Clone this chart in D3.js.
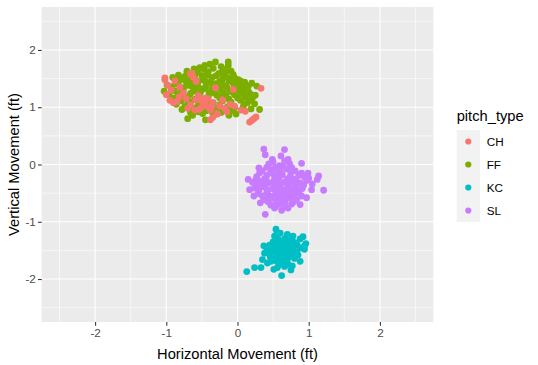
<!DOCTYPE html>
<html><head><meta charset="utf-8">
<script src="https://cdn.jsdelivr.net/npm/d3@7"></script>
<style>body{margin:0;background:#fff}svg{display:block;font-family:"Liberation Sans",Arial,sans-serif}</style>
</head><body><svg id="c" width="538" height="365"></svg>
<script>
const categories = ["CH","FF","KC","SL"];
const colors = ["#F8766D","#7CAE00","#00BFC4","#C77CFF"];
const drawOrder = ["FF","CH","KC","SL"];
const xTicks = [-2,-1,0,1,2];
const yTicks = [-2,-1,0,1,2];

const chPoints = [[-1.02,1.48],[-0.98,1.38],[-1.0,1.22],[-0.95,1.12],[-0.90,1.08],[-0.85,1.10],[-0.93,1.30],[-0.88,1.46],[-0.81,1.35],[-0.76,1.25],[-0.66,1.58],[-0.62,1.52],[-0.58,1.45],[-0.72,1.15],[-0.66,1.04],[-0.60,0.95],[-0.52,1.12],[-0.50,1.00],[-0.45,1.05],[-0.42,1.15],[-0.38,0.95],[-0.35,1.08],[-0.31,1.34],[-0.38,0.78],[-0.35,0.82],[-0.25,1.02],[-0.18,0.98],[-0.15,0.92],[-0.10,1.05],[-0.06,1.31],[0.05,0.95],[0.11,0.93],[0.17,0.74],[0.20,0.77],[0.23,0.80],[0.26,0.83],[0.33,1.33],[-0.70,0.98],[-0.55,1.20],[-0.21,1.13],[-0.28,0.88],[-0.82,1.18],[-0.59,1.13],[-0.54,0.96],[-0.40,0.99],[-0.04,1.02],[-1.02,1.51],[-0.64,1.59],[-0.46,1.16],[-0.36,1.01],[-0.29,0.89]];

const ffPoints = [[-1.03,1.28],[-0.99,1.39],[-0.91,1.52],[-0.83,1.56],[-0.71,1.63],[-0.61,1.67],[-0.53,1.69],[-0.46,1.73],[-0.39,1.75],[-0.31,1.79],[-0.23,1.71],[-0.13,1.73],[-0.09,1.63],[-0.04,1.51],[0.04,1.46],[0.11,1.39],[0.14,1.31],[0.18,1.23],[0.21,1.16],[0.24,1.06],[0.19,0.97],[0.27,1.37],[0.31,0.96],[0.08,1.01],[-0.02,0.88],[-0.12,0.86],[-0.23,0.91],[-0.33,0.86],[-0.45,0.78],[-0.55,0.92],[-0.63,0.86],[-0.70,0.80],[-0.78,0.96],[-0.86,1.05],[-0.91,1.16],[-0.96,1.22],
[-0.69,1.58],[-0.56,1.61],[-0.41,1.62],[-0.26,1.59],[-0.16,1.62],
[-0.79,1.49],[-0.66,1.51],[-0.49,1.48],[-0.36,1.52],[-0.21,1.49],[-0.11,1.51],[0.01,1.48],
[-0.86,1.41],[-0.71,1.38],[-0.56,1.42],[-0.44,1.39],[-0.31,1.41],[-0.19,1.38],[-0.06,1.42],[0.06,1.37],
[-0.89,1.29],[-0.76,1.31],[-0.61,1.28],[-0.49,1.32],[-0.36,1.29],[-0.24,1.31],[-0.11,1.28],[0.01,1.31],[0.09,1.27],
[-0.84,1.21],[-0.69,1.19],[-0.54,1.22],[-0.41,1.18],[-0.29,1.21],[-0.16,1.19],[-0.04,1.22],[0.11,1.18],
[-0.79,1.11],[-0.66,1.09],[-0.49,1.12],[-0.34,1.08],[-0.21,1.11],[-0.09,1.09],[0.04,1.12],[0.14,1.08],
[-0.74,1.01],[-0.59,0.99],[-0.44,1.02],[-0.29,0.98],[-0.14,1.01],[-0.04,0.99],
[-0.66,0.91],[-0.49,0.89],[-0.36,0.92],
[-0.45,1.45],[-0.35,1.35],[-0.25,1.45],[-0.55,1.35],[-0.40,1.25],[-0.30,1.55],[-0.50,1.55],[-0.15,1.35],[-0.65,1.45],[-0.20,1.25],[-0.13,1.79],[0.20,1.42],[0.25,1.21],
[-0.60,1.64],[-0.47,1.66],[-0.34,1.68],[-0.20,1.66],
[-0.74,1.54],[-0.60,1.56],[-0.43,1.56],[-0.18,1.55],[-0.06,1.57],
[-0.82,1.46],[-0.72,1.44],[-0.58,1.47],[-0.38,1.44],[-0.12,1.46],[0.00,1.43],[0.10,1.44],
[-0.93,1.36],[-0.78,1.34],[-0.64,1.36],[-0.45,1.33],[-0.26,1.36],[-0.05,1.34],[0.05,1.36],[0.15,1.36],
[-0.80,1.26],[-0.66,1.24],[-0.52,1.26],[-0.33,1.25],[-0.07,1.26],[0.05,1.24],[0.16,1.26],
[-0.75,1.16],[-0.60,1.14],[-0.45,1.15],[-0.25,1.16],[-0.12,1.14],[0.00,1.16],[0.18,1.12],
[-0.70,1.06],[-0.55,1.04],[-0.39,1.06],[-0.25,1.04],[-0.10,1.05],[0.10,1.06],
[-0.62,0.96],[-0.44,0.94],[-0.20,0.95],[-0.08,0.94]];

const kcPoints = [[0.54,-1.13],[0.55,-1.22],[0.92,-1.26],[0.94,-1.42],[0.94,-1.48],[0.88,-1.69],[0.75,-1.84],[0.62,-1.94],[0.51,-1.83],[0.13,-1.87],[0.24,-1.80],[0.33,-1.80],[0.37,-1.42],[0.35,-1.66],[0.47,-1.54],[0.71,-1.31],[0.78,-1.25],[0.66,-1.60],[0.71,-1.74],[0.59,-1.74],[0.47,-1.69],[0.96,-1.38],[0.38,-1.55],[0.85,-1.58],
[0.58,-1.31],[0.67,-1.29],[0.76,-1.32],
[0.45,-1.41],[0.55,-1.39],[0.65,-1.42],[0.74,-1.39],[0.84,-1.41],
[0.41,-1.51],[0.51,-1.49],[0.60,-1.52],[0.70,-1.48],[0.79,-1.51],
[0.46,-1.61],[0.56,-1.59],[0.64,-1.62],[0.75,-1.60],
[0.55,-1.69],[0.65,-1.68],[0.62,-1.45],[0.52,-1.25],
[0.60,-1.20],[0.70,-1.22],[0.63,-1.35],[0.72,-1.36],[0.50,-1.35],[0.80,-1.36],[0.88,-1.30],
[0.48,-1.45],[0.57,-1.46],[0.67,-1.45],[0.77,-1.45],[0.88,-1.46],
[0.44,-1.55],[0.55,-1.55],[0.65,-1.56],[0.74,-1.55],[0.83,-1.53],
[0.50,-1.65],[0.60,-1.66],[0.70,-1.66],[0.80,-1.64],[0.42,-1.72],[0.66,-1.78],[0.77,-1.77],[0.56,-1.80]];

const slPoints = [[0.37,0.27],[0.66,0.26],[0.39,0.17],[0.90,0.02],[0.15,-0.26],[0.17,-0.44],[1.21,-0.45],[1.14,-0.20],[1.12,-0.26],[0.39,-0.87],[0.88,-0.70],[0.32,-0.67],[0.49,0.09],[0.61,0.15],[0.71,0.09],[0.99,-0.15],[1.04,-0.44],[0.97,-0.58],[0.23,-0.55],[0.30,-0.06],[0.54,-0.73],[0.71,-0.76],[0.40,-0.62],[0.62,-0.80],
[0.44,0.01],[0.59,-0.02],[0.73,0.02],
[0.35,-0.11],[0.47,-0.09],[0.58,-0.12],[0.69,-0.08],[0.81,-0.11],
[0.27,-0.21],[0.41,-0.19],[0.52,-0.22],[0.63,-0.18],[0.74,-0.21],[0.86,-0.19],[0.94,-0.22],
[0.21,-0.31],[0.33,-0.29],[0.44,-0.32],[0.56,-0.28],[0.66,-0.31],[0.77,-0.29],[0.88,-0.32],[0.97,-0.28],
[0.24,-0.41],[0.36,-0.39],[0.49,-0.42],[0.59,-0.38],[0.71,-0.41],[0.81,-0.39],[0.91,-0.42],
[0.29,-0.51],[0.41,-0.49],[0.53,-0.52],[0.63,-0.48],[0.73,-0.51],[0.85,-0.49],
[0.37,-0.61],[0.49,-0.59],[0.61,-0.62],[0.72,-0.58],[0.83,-0.61],
[0.47,-0.71],[0.59,-0.69],[0.76,-0.69],
[0.50,-0.30],[0.60,-0.45],[0.70,-0.25],[0.55,-0.15],[0.45,-0.55],[0.65,-0.55],[0.80,-0.45],[0.40,-0.25],
[0.50,0.05],[0.66,0.06],[0.41,-0.05],[0.53,-0.05],[0.64,-0.03],[0.76,-0.05],
[0.31,-0.15],[0.46,-0.15],[0.61,-0.14],[0.75,-0.15],[0.90,-0.15],
[0.26,-0.26],[0.38,-0.25],[0.58,-0.24],[0.82,-0.25],[1.00,-0.24],
[0.28,-0.35],[0.39,-0.35],[0.52,-0.36],[0.61,-0.34],[0.72,-0.35],[0.83,-0.35],[0.93,-0.36],[1.05,-0.34],
[0.30,-0.45],[0.43,-0.45],[0.55,-0.46],[0.66,-0.44],[0.76,-0.45],[0.87,-0.45],
[0.35,-0.55],[0.57,-0.55],[0.69,-0.56],[0.79,-0.55],[0.90,-0.55],
[0.43,-0.65],[0.55,-0.65],[0.67,-0.66],[0.79,-0.65],
[0.52,-0.76],[0.67,-0.74]];

const seriesByName = {CH: chPoints, FF: ffPoints, KC: kcPoints, SL: slPoints};

const svg = d3.select("#c");
const x = d3.scaleLinear().domain([-2.75,2.75]).range([41.7,433.3]);
const y = d3.scaleLinear().domain([-2.75,2.75]).range([322,7]);
const color = d3.scaleOrdinal().domain(categories).range(colors);

// panel
svg.append("rect").attr("x",x(-2.75)).attr("y",y(2.75))
  .attr("width",x(2.75)-x(-2.75)).attr("height",y(-2.75)-y(2.75)).attr("fill","#EBEBEB");

const minor = [-2.5,-1.5,-0.5,0.5,1.5,2.5];
const g = svg.append("g");
g.selectAll(".vmin").data(minor).join("line").attr("x1",d=>x(d)).attr("x2",d=>x(d))
  .attr("y1",y(2.75)).attr("y2",y(-2.75)).attr("stroke","#fff").attr("stroke-width",0.55);
g.selectAll(".hmin").data(minor).join("line").attr("y1",d=>y(d)).attr("y2",d=>y(d))
  .attr("x1",x(-2.75)).attr("x2",x(2.75)).attr("stroke","#fff").attr("stroke-width",0.55);
g.selectAll(".vmaj").data(xTicks).join("line").attr("x1",d=>x(d)).attr("x2",d=>x(d))
  .attr("y1",y(2.75)).attr("y2",y(-2.75)).attr("stroke","#fff").attr("stroke-width",1.1);
g.selectAll(".hmaj").data(yTicks).join("line").attr("y1",d=>y(d)).attr("y2",d=>y(d))
  .attr("x1",x(-2.75)).attr("x2",x(2.75)).attr("stroke","#fff").attr("stroke-width",1.1);

// points
const merged = [];
drawOrder.forEach(c => seriesByName[c].forEach(p => merged.push({x:p[0], y:p[1], c})));
svg.append("g").selectAll("circle").data(merged).join("circle")
  .attr("cx",d=>x(d.x)).attr("cy",d=>y(d.y)).attr("r",3.4).attr("fill",d=>color(d.c));

// axes
const xa = svg.append("g").attr("transform",`translate(0,${y(-2.75)})`)
  .call(d3.axisBottom(x).tickValues(xTicks).tickSize(3.7).tickPadding(2.5).tickFormat(d3.format("d")));
const ya = svg.append("g").attr("transform",`translate(${x(-2.75)},0)`)
  .call(d3.axisLeft(y).tickValues(yTicks).tickSize(3.7).tickPadding(2.2).tickFormat(d3.format("d")));
[xa,ya].forEach(a=>{
  a.select(".domain").remove();
  a.selectAll(".tick line").attr("stroke","#333333").attr("stroke-width",1.07);
  a.selectAll(".tick text").attr("fill","#4D4D4D").style("font-size","11.7px").style("font-family","Liberation Sans, Arial, sans-serif");
});
xa.selectAll(".tick text").text(d=>d<0?"-"+Math.abs(d):d);
ya.selectAll(".tick text").text(d=>d<0?"-"+Math.abs(d):d);

svg.append("text").attr("x",(x(-2.75)+x(2.75))/2).attr("y",359).attr("text-anchor","middle")
  .style("font-size","14.7px").attr("fill","#000").text("Horizontal Movement (ft)");
svg.append("text").attr("transform",`translate(19,${(y(2.75)+y(-2.75))/2}) rotate(-90)`).attr("text-anchor","middle")
  .style("font-size","14.7px").attr("fill","#000").text("Vertical Movement (ft)");

// legend
const lg = svg.append("g");
lg.append("text").attr("x",456.7).attr("y",121).style("font-size","14.7px").attr("fill","#000").text("pitch_type");
lg.append("rect").attr("x",456.7).attr("y",130).attr("width",23.3).attr("height",92).attr("fill","#F2F2F2");
categories.forEach((c,i)=>{
  const cy = 141.5 + i*23;
  lg.append("circle").attr("cx",468.3).attr("cy",cy).attr("r",3.1).attr("fill",color(c));
  lg.append("text").attr("x",486.7).attr("y",cy+4.2).style("font-size","11.7px").attr("fill","#000").text(c);
});
</script></body></html>
